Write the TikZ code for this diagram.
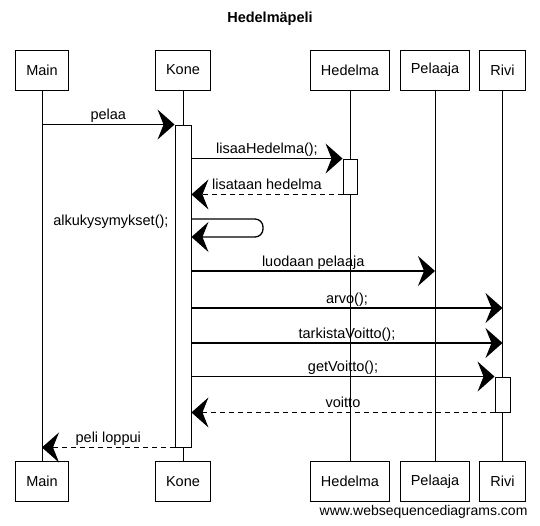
\documentclass[tikz,border=0pt]{standalone}
\usepackage{fontspec}
\setmainfont{Liberation Sans}
\usetikzlibrary{arrows.meta,positioning}

\begin{document}
\begin{tikzpicture}
[x=1pt, y=-1pt, node distance=411.5pt, font=\fontsize{14.5}{16}\selectfont]
\tikzstyle{obj}=[rectangle, draw, fill=white, line width=0.9pt, inner xsep=10.5pt, minimum height=40pt]
\tikzstyle{act}=[rectangle, draw, fill=white, line width=0.9pt, inner sep=0pt, minimum width=15pt, minimum height=35pt]
\tikzstyle{msg}=[line width=1.3pt, -{Stealth[length=17pt,width=30pt,inset=6pt]}]
\tikzstyle{reply}=[msg, line width=1.1pt, dash pattern=on 5pt off 4pt]
\tikzstyle{msgtext}=[above, inner sep=1pt, text depth=3pt]
\useasboundingbox (0,0) rectangle (540,526);

\node[font=\fontsize{14.5}{16}\selectfont\bfseries]	(title)	at (270,19)	{Hedelmäpeli};

\node[obj]	(Main)		at (42,70)	{Main};
\node[obj]	(Kone)		at (183,70)	{Kone};
\node[obj]	(Hedelma)	at (350,70)	{Hedelma};
\node[obj]	(Pelaaja)	at (435,70)	{Pelaaja};
\node[obj]	(Rivi)		at (502.5,70)	{Rivi};

\node[obj]	(MainB)		[below of=Main]		{Main};
\node[obj]	(KoneB)		[below of=Kone]		{Kone};
\node[obj]	(HedelmaB)	[below of=Hedelma]	{Hedelma};
\node[obj]	(PelaajaB)	[below of=Pelaaja]	{Pelaaja};
\node[obj]	(RiviB)		[below of=Rivi]		{Rivi};

\draw[line width=0.8pt] (Main)--(MainB);
\draw[line width=0.8pt] (Kone)--(KoneB);
\draw[line width=0.8pt] (Hedelma)--(HedelmaB);
\draw[line width=0.8pt] (Pelaaja)--(PelaajaB);
\draw[line width=0.8pt] (Rivi)--(RiviB);

\node[act, minimum width=16pt, minimum height=322pt]	(actK)	at (183,286)	{};
\node[act, minimum width=14pt]	(actH)	at (350,176.5)	{};
\node[act]	(actR)	at (502.5,394.5)	{};

\coordinate (s1) at (263,219);
\coordinate (s2) at (263,237);
\coordinate (r5) at (0,271);
\coordinate (r6) at (0,308);
\coordinate (r7) at (0,343);

\draw[msg] (Main |- actK.north)--(actK.north west) node[msgtext, midway] {pelaa};
\draw[msg] (actK.east |- actH.north)--(actH.north west) node[msgtext, midway] {lisaaHedelma();};
\draw[reply] (actH.south west)--(actK.east |- actH.south) node[msgtext, midway] {lisataan hedelma};
\draw[msg, rounded corners=8pt] (actK.east |- s1)--(s1)--(s2)--(actK.east |- s2);
\node[anchor=east]	(selftext)	at (172,222)	{alkukysymykset();};
\draw[msg] (actK.east |- r5)--(Pelaaja |- r5) node[msgtext, midway] {luodaan pelaaja};
\draw[msg] (actK.east |- r6)--(Rivi |- r6) node[msgtext, midway] {arvo();};
\draw[msg] (actK.east |- r7)--(Rivi |- r7) node[msgtext, midway] {tarkistaVoitto();};
\draw[msg] (actK.east |- actR.north)--(actR.north west) node[msgtext, midway] {getVoitto();};
\draw[reply] (actR.south west)--(actK.east |- actR.south) node[msgtext, midway] {voitto};
\draw[reply] (actK.south west)--(Main |- actK.south) node[msgtext, midway] {peli loppui};

\node[anchor=east, font=\fontsize{14}{16}\selectfont]	(wsd)	at (531,511.5)	{www.websequencediagrams.com};
\end{tikzpicture}
\end{document}
